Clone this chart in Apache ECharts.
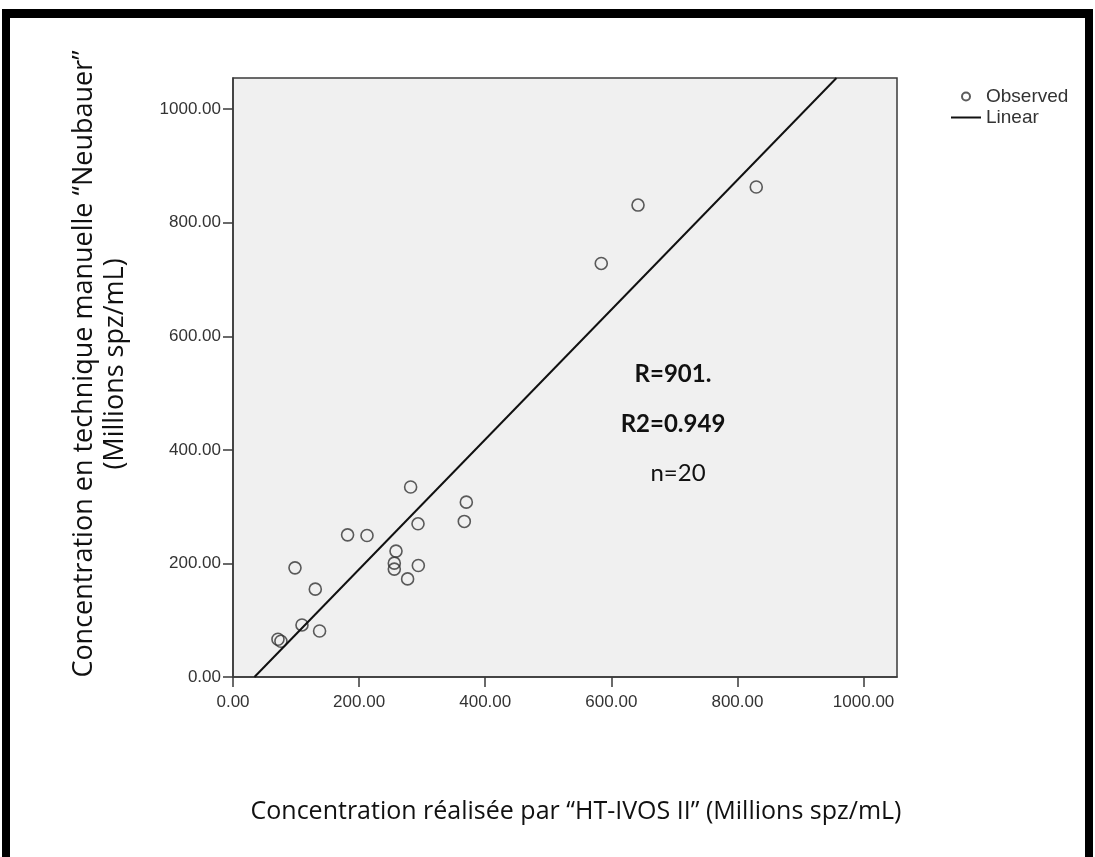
<!DOCTYPE html>
<html>
<head>
<meta charset="utf-8">
<script src="https://cdn.jsdelivr.net/npm/echarts@6/dist/echarts.min.js"></script>
<style>
html,body{margin:0;padding:0;background:#fff;}
#chart{width:1095px;height:857px;}
</style>
</head>
<body>
<div id="chart"></div>
<script>
// Observed points (HT-IVOS II vs Neubauer)
const obsX = [71.3, 76, 109.4, 137.3, 130.5, 98.3, 181.7, 212.5, 258.5, 255.8, 255.8, 276.9, 293.9, 293.4, 281.7, 366.8, 370, 584, 642.3, 829.8];
const obsY = [66.5, 63, 91.7, 81, 154.7, 192.2, 250.4, 249.2, 221.7, 200.5, 190, 172.8, 196.3, 269.8, 334.6, 274, 308, 728.4, 831.2, 863];
// Linear fit line end points
const fitX = [34, 957];
const fitY = [0, 1055];
// Tick values
const xTicks = [0, 200, 400, 600, 800, 1000];
const yTicks = [0, 200, 400, 600, 800, 1000];
const xMax = 1053, yMax = 1055;
const annotations = ['R=901.', 'R2=0.949', 'n=20'];
const xTitle = 'Concentration réalisée par “HT-IVOS II” (Millions spz/mL)';
const yTitle1 = 'Concentration en technique manuelle “Neubauer”';
const yTitle2 = '(Millions spz/mL)';

const chart = echarts.init(document.getElementById('chart'), null, {renderer: 'canvas'});
const axisColor = '#3a3a3a';
const labelFont = '"Liberation Sans", Arial, sans-serif';

function axis(min, max, ticks, margin) {
  return {
    type: 'value', min: min, max: max,
    axisLine: {show: true, onZero: false, lineStyle: {color: axisColor, width: 1.5}},
    axisTick: {show: true, length: 10, lineStyle: {color: axisColor, width: 1.5}, customValues: ticks},
    axisLabel: {customValues: ticks, formatter: v => Number(v).toFixed(2), fontFamily: labelFont, fontSize: 17, color: '#333', margin: margin},
    splitLine: {show: false}
  };
}

const option = {
  animation: false,
  backgroundColor: '#fff',
  grid: {left: 233, right: 198, top: 78, bottom: 180, show: true, backgroundColor: '#f0f0f0', borderColor: axisColor, borderWidth: 1.5},
  xAxis: axis(0, xMax, xTicks, 17),
  yAxis: axis(0, yMax, yTicks, 12),
  legend: {
    orient: 'vertical', left: 946, top: 82, itemWidth: 30, itemHeight: 8, itemGap: 2,
    textStyle: {fontFamily: labelFont, fontSize: 19, color: '#333', lineHeight: 19},
    data: [
      {name: 'Observed'},
      {name: 'Linear', icon: 'path://M0,0H30V2H0Z', itemStyle: {color: '#111'}}
    ]
  },
  series: [
    {
      name: 'Observed', type: 'scatter', symbol: 'circle', symbolSize: 12,
      itemStyle: {color: 'rgba(0,0,0,0)', borderColor: '#333', borderWidth: 1.6},
      data: obsX.map((x, i) => [x, obsY[i]])
    },
    {
      name: 'Linear', type: 'line', symbol: 'none',
      itemStyle: {color: '#111'},
      lineStyle: {color: '#111', width: 2},
      data: fitX.map((x, i) => [x, fitY[i]])
    }
  ],
  graphic: [
    {type: 'rect', shape: {x: 2, y: 9, width: 1091, height: 9}, style: {fill: '#000'}},
    {type: 'rect', shape: {x: 2, y: 9, width: 8, height: 848}, style: {fill: '#000'}},
    {type: 'rect', shape: {x: 1085, y: 9, width: 8, height: 848}, style: {fill: '#000'}},
    {type: 'text', x: 673, y: 374, style: {text: annotations[0], font: 'bold 24px Lato', fill: '#111', textAlign: 'center', textVerticalAlign: 'middle'}},
    {type: 'text', x: 673, y: 424, style: {text: annotations[1], font: 'bold 24px Lato', fill: '#111', textAlign: 'center', textVerticalAlign: 'middle'}},
    {type: 'text', x: 678, y: 473, style: {text: annotations[2], font: '24px Lato', fill: '#111', textAlign: 'center', textVerticalAlign: 'middle'}},
    {type: 'text', x: 576, y: 812, style: {text: xTitle, font: '25px "Open Sans"', fill: '#111', textAlign: 'center', textVerticalAlign: 'middle'}},
    {type: 'text', x: 100, y: 364, rotation: Math.PI / 2, style: {text: yTitle1 + '\n' + yTitle2, font: '27px "Open Sans"', lineHeight: 31, fill: '#111', textAlign: 'center', textVerticalAlign: 'middle'}}
  ]
};
chart.setOption(option);
</script>
</body>
</html>
